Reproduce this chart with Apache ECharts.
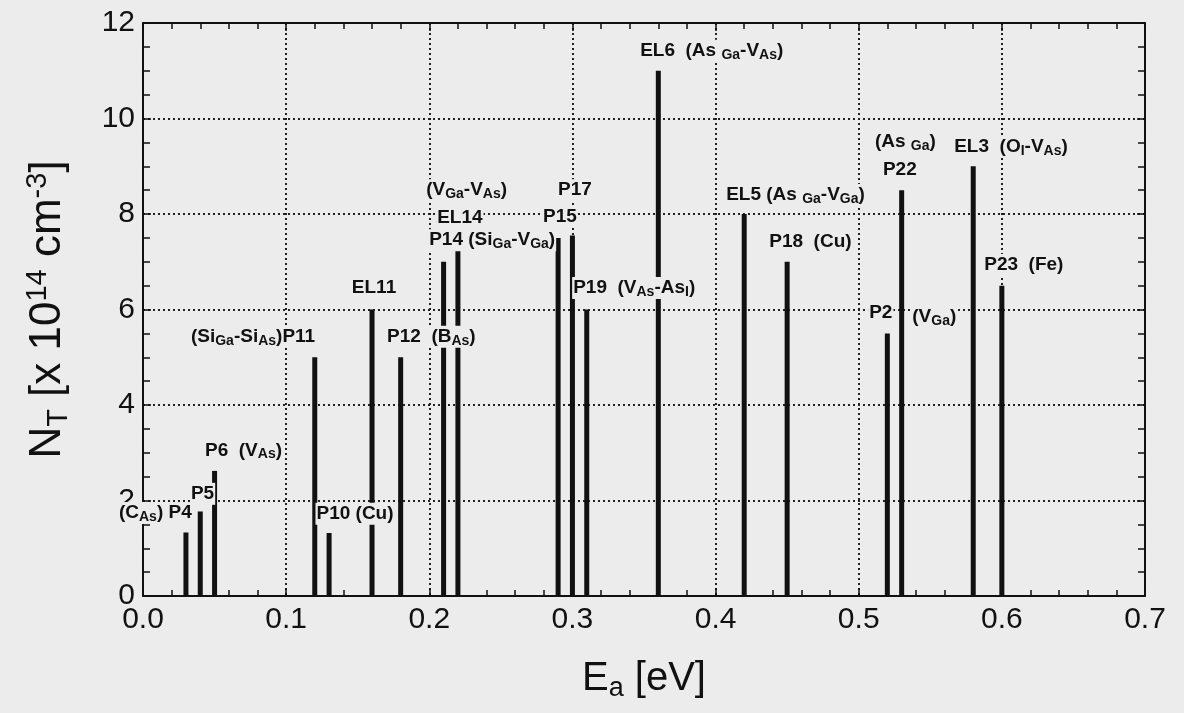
<!DOCTYPE html>
<html><head><meta charset="utf-8">
<script src="https://cdn.jsdelivr.net/npm/echarts@6/dist/echarts.min.js"></script>
<style>html,body{margin:0;padding:0;background:#ececec}#c{width:1184px;height:713px}</style>
</head><body><div id="c"></div>
<script>
// ---- data ----
const trapNames = ['P4','P5','P6','P11','P10','EL11','P12','P14','EL14','P15','P17','P19','EL6','EL5','P18','P2','P22','EL3','P23'];
const energies  = [0.03,0.04,0.05,0.12,0.13,0.16,0.18,0.21,0.22,0.29,0.30,0.31,0.36,0.42,0.45,0.52,0.53,0.58,0.60];
const densities = [1.33,1.77,2.62,5.0,1.32,6.0,5.0,7.0,7.5,7.5,7.55,6.0,11.0,8.0,7.0,5.5,8.5,9.0,6.5];

const labelTexts = [
  '{b|(C}{s|As}{b|) P4}',
  '{b|P5}',
  '{b|P6  (V}{s|As}{b|)}',
  '{b|(Si}{s|Ga}{b|-Si}{s|As}{b|)P11}',
  '{b|P10 (Cu)}',
  '{b|EL11}',
  '{b|P12  (B}{s|As}{b|)}',
  '{b|(V}{s|Ga}{b|-V}{s|As}{b|)}',
  '{b|EL14}',
  '{b|P14 (Si}{s|Ga}{b|-V}{s|Ga}{b|)}',
  '{b|P17}',
  '{b|P15}',
  '{b|P19  (V}{s|As}{b|-As}{s|I}{b|)}',
  '{b|EL6  (As }{s|Ga}{b|-V}{s|As}{b|)}',
  '{b|EL5 (As }{s|Ga}{b|-V}{s|Ga}{b|)}',
  '{b|P18  (Cu)}',
  '{b|(As }{s|Ga}{b|)}',
  '{b|P22}',
  '{b|EL3  (O}{s|I}{b|-V}{s|As}{b|)}',
  '{b|P2}',
  '{b|(V}{s|Ga}{b|)}',
  '{b|P23  (Fe)}'
];
const labelX = [-0.0175,0.0328,0.0426,0.0328,0.1205,0.1452,0.1698,0.1971,0.2048,0.1992,0.2893,0.2788,0.2998,0.3466,0.4067,0.4368,0.5106,0.5162,0.5660,0.5066,0.5367,0.5870];
const labelY = [1.74,2.14,3.05,5.43,1.72,6.45,5.43,8.50,7.92,7.45,8.50,7.94,6.45,11.42,8.40,7.42,9.51,8.92,9.41,5.93,5.85,6.93];

const xTickLabels = ['0.0','0.1','0.2','0.3','0.4','0.5','0.6','0.7'];
const yTickLabels = ['0','2','4','6','8','10','12'];

// ---- chart ----
const bg = '#ececec';
const ink = '#111111';
const font = 'Liberation Sans, Arial, sans-serif';
const chart = echarts.init(document.getElementById('c'));

const labelRich = {
  b: {fontSize: 19, fontWeight: 'bold', fontFamily: font, color: ink, lineHeight: 22},
  s: {fontSize: 14, fontWeight: 'bold', fontFamily: font, color: ink, lineHeight: 12, verticalAlign: 'bottom'}
};
const xNameRich = {
  b: {fontSize: 40, fontFamily: font, color: ink, lineHeight: 46},
  s: {fontSize: 27, fontFamily: font, color: ink, lineHeight: 24, verticalAlign: 'bottom'}
};
const yNameRich = {
  b: {fontSize: 44, fontFamily: font, color: ink, lineHeight: 50},
  s: {fontSize: 29, fontFamily: font, color: ink, lineHeight: 26, verticalAlign: 'bottom'},
  p: {fontSize: 29, fontFamily: font, color: ink, lineHeight: 24, verticalAlign: 'top'}
};

const axisLineStyle = {color: ink, width: 2};
const tickStyle = {color: ink, width: 1.5};
const gridStyle = {color: '#222', width: 2, type: [2, 3]};

const baseX = {
  type: 'value', min: 0, max: 0.7, interval: 0.1,
  axisLine: {show: true, onZero: false, lineStyle: axisLineStyle},
  axisTick: {show: true, inside: true, length: 8, lineStyle: tickStyle},
  minorTick: {show: true, splitNumber: 5, length: 6, lineStyle: tickStyle}
};
const baseY = {
  type: 'value', min: 0, max: 12, interval: 2,
  axisLine: {show: true, onZero: false, lineStyle: axisLineStyle},
  axisTick: {show: true, inside: true, length: 8, lineStyle: tickStyle},
  minorTick: {show: true, splitNumber: 4, length: 7, lineStyle: tickStyle}
};

const option = {
  backgroundColor: bg,
  animation: false,
  grid: {left: 143, right: 39, top: 23, bottom: 117, containLabel: false},
  xAxis: [
    Object.assign({}, baseX, {
      position: 'bottom',
      axisLabel: {formatter: (v, i) => xTickLabels[i], fontSize: 30, fontFamily: font, color: ink, margin: 9},
      splitLine: {show: true, lineStyle: gridStyle},
      name: '{b|E}{s|a}{b| [eV]}', nameLocation: 'middle', nameGap: 60,
      nameTextStyle: {rich: xNameRich}
    }),
    Object.assign({}, baseX, {
      position: 'top', axisLabel: {show: false}, splitLine: {show: false}
    })
  ],
  yAxis: [
    Object.assign({}, baseY, {
      position: 'left',
      axisLabel: {formatter: (v, i) => yTickLabels[i], fontSize: 30, fontFamily: font, color: ink, margin: 8},
      splitLine: {show: true, lineStyle: gridStyle},
      name: '{b|N}{s|T}{b| [x 10}{p|14}{b| cm}{p|-3}{b|]}', nameLocation: 'middle', nameGap: 70, nameRotate: 90,
      nameTextStyle: {rich: yNameRich}
    }),
    Object.assign({}, baseY, {
      position: 'right', axisLabel: {show: false}, splitLine: {show: false}
    })
  ],
  series: [
    {
      type: 'bar', xAxisIndex: 0, yAxisIndex: 0, barWidth: 5, z: 2,
      itemStyle: {color: ink},
      data: energies.map((e, i) => ({name: trapNames[i], value: [e, densities[i]]}))
    },
    {
      type: 'scatter', xAxisIndex: 0, yAxisIndex: 0, clip: false, z: 5,
      symbolSize: 0, itemStyle: {color: ink},
      data: labelX.map((x, i) => [x, labelY[i]]),
      label: {
        show: true, position: [0, 0], align: 'left', verticalAlign: 'middle',
        color: ink, textBorderWidth: 0, opacity: 1,
        backgroundColor: bg, padding: [0, 1],
        formatter: p => labelTexts[p.dataIndex],
        rich: labelRich
      }
    }
  ]
};
chart.setOption(option);
</script>
</body></html>
